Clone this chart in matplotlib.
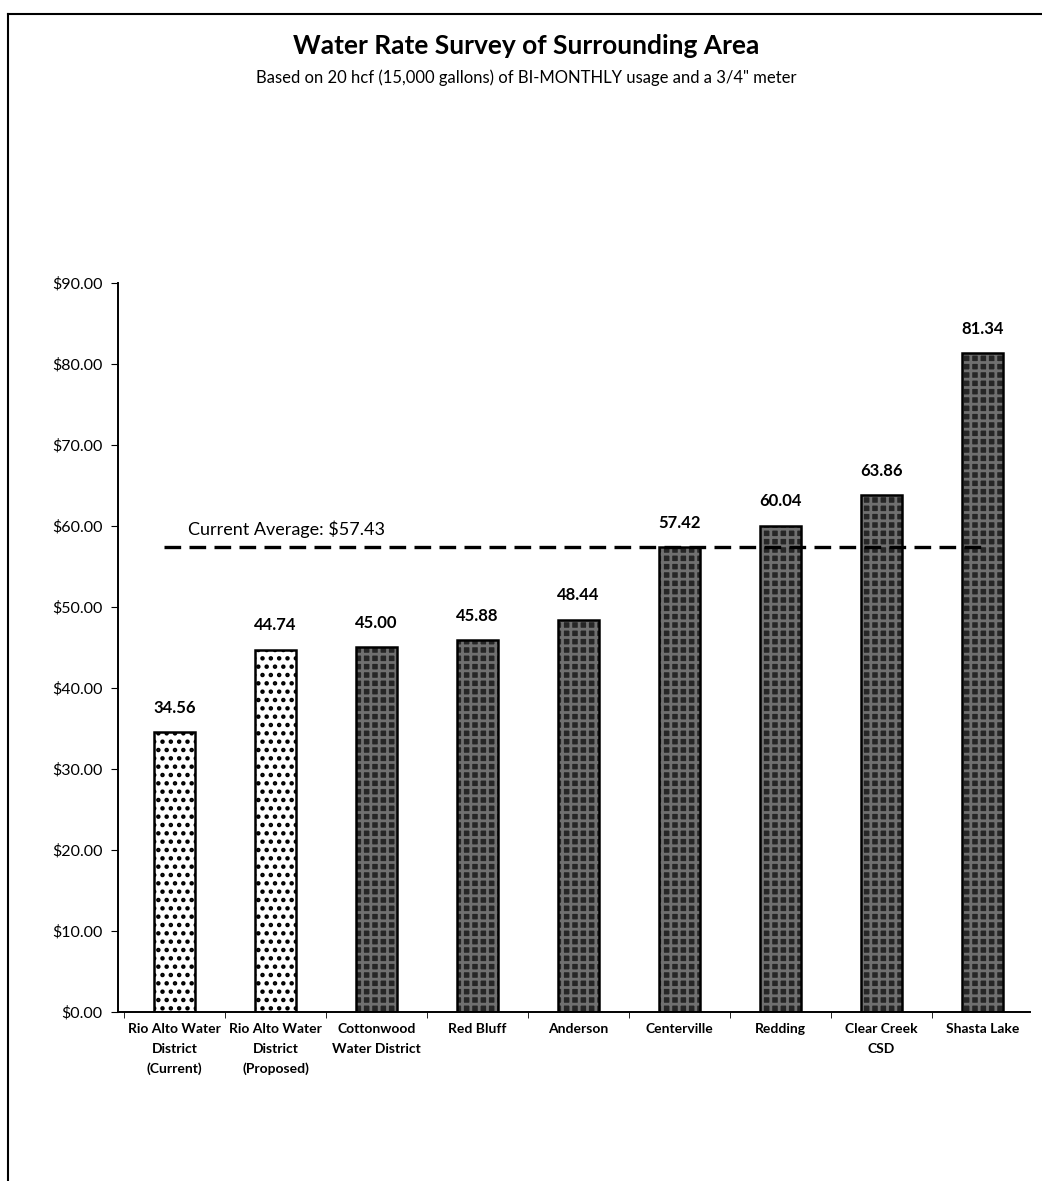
import numpy as np
import matplotlib
matplotlib.use("Agg")
import matplotlib.pyplot as plt
from matplotlib.lines import Line2D
from matplotlib.ticker import FixedLocator, FuncFormatter

plt.rcParams["font.family"] = ["Lato", "DejaVu Sans"]
plt.rcParams["hatch.linewidth"] = 2.0

# ── data ─────────────────────────────────────
categories = [
    "Rio Alto Water\nDistrict\n(Current)",
    "Rio Alto Water\nDistrict\n(Proposed)",
    "Cottonwood\nWater District",
    "Red Bluff",
    "Anderson",
    "Centerville",
    "Redding",
    "Clear Creek\nCSD",
    "Shasta Lake",
]
rates = [34.56, 44.74, 45.00, 45.88, 48.44, 57.42, 60.04, 63.86, 81.34]
is_rio_alto = [True, True, False, False, False, False, False, False, False]
current_average = 57.43
yticks = [0, 10, 20, 30, 40, 50, 60, 70, 80, 90]

fig = plt.figure(figsize=(10.42, 11.81), dpi=100)
ax = fig.add_axes([0.1132, 0.1431, 0.8753, 0.6173])

x = np.arange(len(categories))
for xi, val, rio in zip(x, rates, is_rio_alto):
    if rio:
        ax.bar(xi, val, width=0.4, color="white", hatch="..",
               edgecolor="black", linewidth=0, zorder=2)
    else:
        ax.bar(xi, val, width=0.4, color="#262626", hatch="++",
               edgecolor="#707070", linewidth=0, zorder=2)
    ax.bar(xi, val, width=0.4, fill=False, edgecolor="black",
           linewidth=1.8, zorder=3)
    ax.text(xi, val + 2.0, f"{val:.2f}", ha="center", va="bottom",
            fontsize=12, fontweight="bold", zorder=4)

# current average line
ax.plot([-0.1, 8.02], [current_average, current_average], color="black",
        linestyle=(0, (5, 2.5)), linewidth=2.4, zorder=5)
ax.text(0.13, current_average + 1.1, f"Current Average: ${current_average:.2f}",
        fontsize=13, ha="left", va="bottom")

ax.set_xlim(-0.56, 8.47)
ax.set_ylim(0, 90)
ax.yaxis.set_major_locator(FixedLocator(yticks))
ax.yaxis.set_major_formatter(FuncFormatter(lambda v, p: f"${v:.2f}"))
ax.set_xticks(x)
ax.set_xticklabels(categories, fontsize=10, fontweight="bold", linespacing=1.75)
ax.xaxis.set_minor_locator(FixedLocator(np.arange(-0.5, len(categories), 1.0)))
ax.tick_params(axis="x", which="major", length=0, pad=8)
ax.tick_params(axis="x", which="minor", length=4, direction="out")
ax.tick_params(axis="y", length=5, direction="out", labelsize=11.5, pad=6)
for side in ("top", "right"):
    ax.spines[side].set_visible(False)
ax.spines["left"].set_linewidth(1.4)
ax.spines["bottom"].set_linewidth(1.4)

fig.text(0.505, 0.961, "Water Rate Survey of Surrounding Area",
         ha="center", va="center", fontsize=19, fontweight="bold")
fig.text(0.505, 0.934,
         'Based on 20 hcf (15,000 gallons) of BI-MONTHLY usage and a 3/4" meter',
         ha="center", va="center", fontsize=12)

# page frame from the scanned document
fig.add_artist(Line2D([8 / 1042, 8 / 1042], [0, 1 - 14 / 1181],
                      transform=fig.transFigure, color="black", linewidth=1.5))
fig.add_artist(Line2D([8 / 1042, 1], [1 - 14 / 1181, 1 - 14 / 1181],
                      transform=fig.transFigure, color="black", linewidth=1.5))

fig.savefig("out.png", dpi=100)
